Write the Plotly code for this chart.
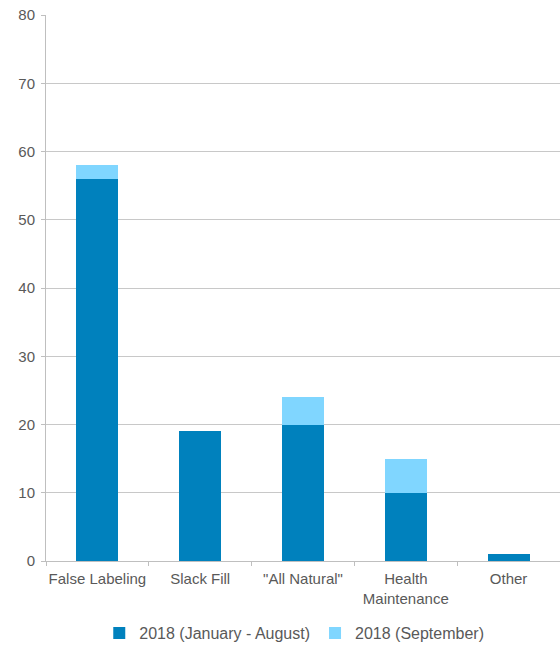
import plotly.graph_objects as go

categories = ["False Labeling", "Slack Fill", "\"All Natural\"", "Health<br>Maintenance", "Other"]
jan_aug = [56, 19, 20, 10, 1]
september = [2, 0, 4, 5, 0]
series_names = ["2018 (January - August)", "2018 (September)"]
y_ticks = [0, 10, 20, 30, 40, 50, 60, 70, 80]

fig = go.Figure()
fig.add_trace(go.Bar(x=categories, y=jan_aug, name=series_names[0],
                     marker=dict(color="#0081BD", line=dict(width=0)), width=0.41))
fig.add_trace(go.Bar(x=categories, y=september, name=series_names[1],
                     marker=dict(color="#80D6FF", line=dict(width=0)), width=0.41))

fig.update_layout(
    barmode="stack",
    width=560, height=650,
    margin=dict(l=46, r=0, t=15, b=88),
    plot_bgcolor="white", paper_bgcolor="white",
    font=dict(family="Liberation Sans, Arial, sans-serif", size=15, color="#595959"),
    showlegend=True,
    legend=dict(orientation="h", x=0.483, xanchor="center", y=-0.132, yanchor="middle",
                traceorder="normal", font=dict(size=16, color="#595959"),
                itemwidth=30, tracegroupgap=0),
    bargap=0.59,
)
fig.update_yaxes(range=[0, 80], tickvals=y_ticks, showgrid=True, gridcolor="#C8C8C8", gridwidth=1,
                 showline=True, linecolor="#BFBFBF", linewidth=1,
                 ticks="outside", ticklen=4, tickcolor="#BFBFBF", zeroline=False,
                 ticklabelstandoff=3)
fig.update_xaxes(showline=True, linecolor="#BFBFBF", linewidth=1,
                 ticks="outside", ticklen=4, tickcolor="#BFBFBF", tickson="boundaries",
                 showgrid=False, ticklabelstandoff=4, tickangle=0)

fig.write_html("out.html")
